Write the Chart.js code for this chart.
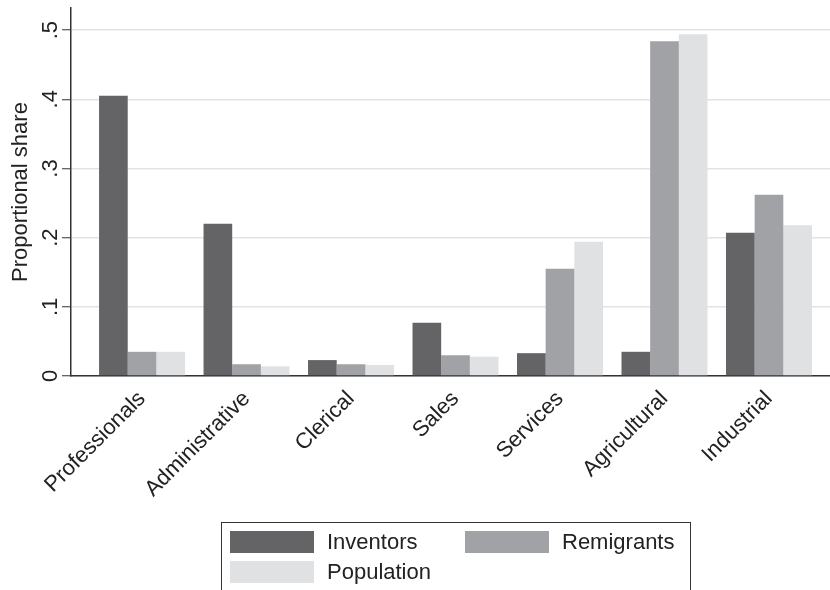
<!DOCTYPE html>
<html>
<head>
<meta charset="utf-8">
<script src="https://cdn.jsdelivr.net/npm/chart.js@4/dist/chart.umd.min.js"></script>
<style>
  html, body { margin: 0; padding: 0; background: #fff; }
  canvas { display: block; }
</style>
</head>
<body>
<canvas id="shareChart" width="830" height="590"></canvas>
<script>
// occupational groups and the share of each group
var categories = ['Professionals', 'Administrative', 'Clerical', 'Sales', 'Services', 'Agricultural', 'Industrial'];
var inventors  = [0.405, 0.220, 0.023, 0.077, 0.033, 0.035, 0.207];
var remigrants = [0.035, 0.017, 0.017, 0.030, 0.155, 0.484, 0.262];
var population = [0.035, 0.014, 0.016, 0.028, 0.194, 0.494, 0.218];
var yTicks = [0, 0.1, 0.2, 0.3, 0.4, 0.5];

var FONT = '"Liberation Sans", Arial, sans-serif';
var INK = '#222';

function points(values) {
  return values.map(function (v, i) { return { x: i, y: v }; });
}

// legend box under the plot, two entries per row
var boxLegend = {
  id: 'boxLegend',
  afterDraw: function (chart) {
    var ctx = chart.ctx;
    ctx.save();
    ctx.strokeStyle = '#333';
    ctx.lineWidth = 1;
    ctx.strokeRect(221.5, 522.5, 469, 80);
    ctx.font = '22px ' + FONT;
    ctx.textBaseline = 'middle';
    ctx.fillStyle = INK;
    chart.data.datasets.forEach(function (ds, i) {
      var col = i % 2, row = Math.floor(i / 2);
      var x = 230 + col * 235, y = 531 + row * 30;
      ctx.fillStyle = ds.backgroundColor;
      ctx.fillRect(x, y, 84, 22);
      ctx.fillStyle = INK;
      ctx.fillText(ds.label, x + 97, y + 12);
    });
    ctx.restore();
  }
};

var ctx = document.getElementById('shareChart').getContext('2d');
var shareChart = new Chart(ctx, {
  type: 'bar',
  data: {
    datasets: [
      { label: 'Inventors',  data: points(inventors),  backgroundColor: '#646466' },
      { label: 'Remigrants', data: points(remigrants), backgroundColor: '#a1a2a5' },
      { label: 'Population', data: points(population), backgroundColor: '#e0e1e3' }
    ]
  },
  options: {
    responsive: false,
    animation: false,
    layout: { padding: { top: 8, right: 0, left: 0, bottom: 0 } },
    datasets: { bar: { categoryPercentage: 0.823, barPercentage: 1, borderWidth: 0 } },
    plugins: {
      legend: { display: false },
      tooltip: { enabled: false }
    },
    scales: {
      x: {
        type: 'linear',
        min: -0.68,
        max: 6.584,
        offset: false,
        grid: { display: false },
        border: { display: true, color: '#333', width: 1.5 },
        afterBuildTicks: function (scale) {
          scale.ticks = categories.map(function (c, i) { return { value: i }; });
        },
        afterFit: function (scale) {
          scale.height = 590 - 376;
          scale.paddingLeft = 0;
          scale.paddingRight = 0;
        },
        ticks: {
          autoSkip: false,
          minRotation: 45,
          maxRotation: 45,
          padding: 2,
          color: INK,
          font: { family: FONT, size: 22 },
          callback: function (v) { return categories[v]; }
        }
      },
      y: {
        min: 0,
        max: 0.532,
        afterBuildTicks: function (scale) {
          scale.ticks = yTicks.map(function (v) { return { value: v }; });
        },
        afterFit: function (scale) {
          scale.width = 71;
          scale.paddingTop = 0;
          scale.paddingBottom = 0;
        },
        grid: { color: '#e3e3e3', lineWidth: 1.5, tickColor: '#333', tickLength: 9, tickWidth: 1 },
        border: { display: true, color: '#333', width: 1.5 },
        ticks: {
          minRotation: 90,
          maxRotation: 90,
          crossAlign: 'center',
          padding: 2,
          color: INK,
          font: { family: FONT, size: 22 },
          callback: function (v) { return v === 0 ? '0' : v.toFixed(1).replace(/^0/, ''); }
        },
        title: {
          display: true,
          text: 'Proportional share',
          color: INK,
          font: { family: FONT, size: 22 },
          padding: { top: 8, bottom: 0 }
        }
      }
    }
  },
  plugins: [boxLegend]
});
</script>
</body>
</html>
